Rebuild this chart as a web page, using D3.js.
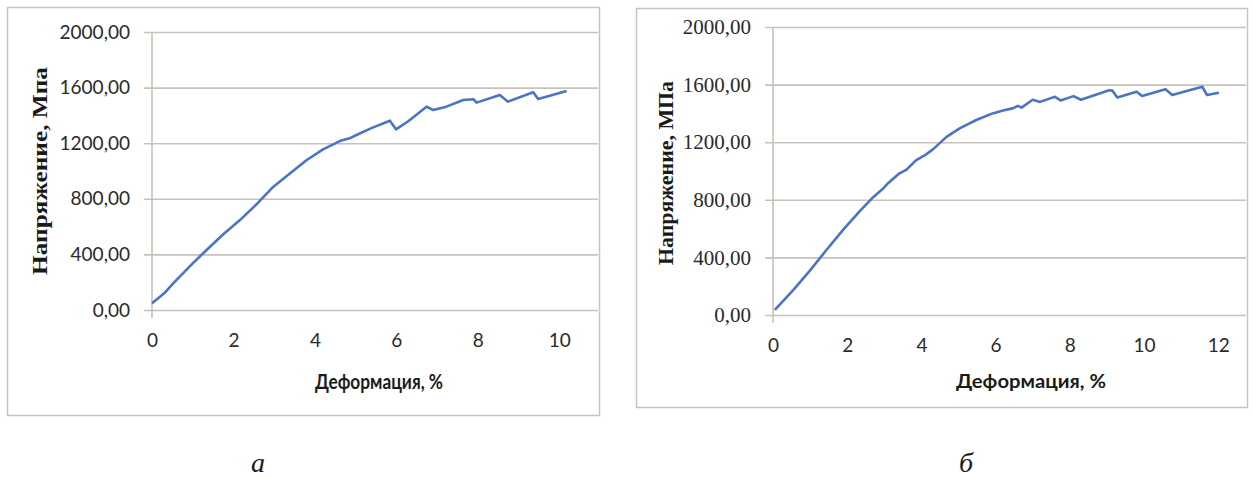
<!DOCTYPE html>
<html>
<head>
<meta charset="utf-8">
<script src="https://cdn.jsdelivr.net/npm/d3@7"></script>
<style>
  html, body { margin: 0; padding: 0; background: #fff; }
  svg { display: block; }
  .tick-sans text { font-family: Lato, "Open Sans", sans-serif; }
  .tick-serif text { font-family: "Liberation Serif", "DejaVu Serif", serif; }
</style>
</head>
<body>
<svg id="fig" width="1253" height="479"></svg>
<script>
// Stress-strain curves, two specimens (а, б).
const STRAIN_A = [0, 0.3, 0.52, 1.0, 1.34, 1.75, 2.16, 2.6, 2.98, 3.4, 3.8, 4.2, 4.61, 4.85, 5.02, 5.4, 5.84, 5.99, 6.3, 6.74, 6.9, 7.23, 7.64, 7.89, 7.97, 8.54, 8.74, 9.36, 9.48, 10.18];
const STRESS_A = [48, 120, 192, 335, 432, 545, 647, 770, 887, 985, 1079, 1155, 1215, 1235, 1259, 1310, 1362, 1300, 1360, 1463, 1439, 1463, 1511, 1516, 1492, 1547, 1499, 1566, 1518, 1576];

const STRAIN_B = [0.05, 0.55, 1.0, 1.44, 1.9, 2.34, 2.7, 2.97, 3.1, 3.41, 3.6, 3.86, 4.1, 4.31, 4.67, 5.03, 5.48, 5.92, 6.2, 6.46, 6.6, 6.7, 7.0, 7.2, 7.6, 7.75, 8.1, 8.3, 8.7, 9.06, 9.15, 9.28, 9.8, 9.95, 10.58, 10.76, 11.57, 11.7, 12.02];
const STRESS_B = [35, 174, 310, 451, 595, 722, 818, 878, 915, 984, 1010, 1076, 1110, 1150, 1235, 1296, 1354, 1400, 1420, 1435, 1452, 1440, 1495, 1480, 1515, 1490, 1520, 1495, 1530, 1560, 1558, 1511, 1551, 1521, 1567, 1528, 1585, 1528, 1544];

const Y_TICKS = [0, 400, 800, 1200, 1600, 2000];
const X_TICKS_A = [0, 2, 4, 6, 8, 10];
const X_TICKS_B = [0, 2, 4, 6, 8, 10, 12];

const Y_TITLE_A = 'Напряжение, Мпа';
const Y_TITLE_B = 'Напряжение, МПа';
const X_TITLE = 'Деформация, %';
const PANEL_LABELS = ['а', 'б'];

const LINE_COLOR = '#4a74c4';
const GRID_COLOR = '#c9c1ba';
const FRAME_COLOR = '#c4c4c4';

const ruLocale = d3.formatLocale({ decimal: ',', thousands: '', grouping: [3], currency: ['', ''] });
const fmtY = ruLocale.format('.2f');

const svg = d3.select('#fig');

// frame: outer chart box; plot: inner plot rect in page coords
const PANELS = [
  {
    frame: { x: 7.5, y: 7.5, w: 592, h: 408 },
    plot: { left: 152, right: 598, top: 32, bottom: 310 },
    xMax: 10.95,
    xTicks: X_TICKS_A,
    strain: STRAIN_A,
    stress: STRESS_A,
    yTickClass: 'tick-sans',
    yTickSize: 19,
    yTitle: Y_TITLE_A,
    yTitlePos: { x: 47, y: 171, len: 208 },
    xTitlePos: { x: 379, y: 389, len: 128, size: 20 },
    label: PANEL_LABELS[0],
    labelPos: { x: 258, y: 472 },
  },
  {
    frame: { x: 636.5, y: 8.5, w: 611, h: 399 },
    plot: { left: 773, right: 1246, top: 27, bottom: 315 },
    xMax: 12.75,
    xTicks: X_TICKS_B,
    strain: STRAIN_B,
    stress: STRESS_B,
    yTickClass: 'tick-serif',
    yTickSize: 21,
    yTitle: Y_TITLE_B,
    yTitlePos: { x: 673, y: 173, len: 184 },
    xTitlePos: { x: 1031, y: 388, len: 150, size: 19 },
    label: PANEL_LABELS[1],
    labelPos: { x: 966, y: 472 },
  },
];

PANELS.forEach(renderPanel);

function renderPanel(p) {
  svg.append('rect')
    .attr('x', p.frame.x).attr('y', p.frame.y)
    .attr('width', p.frame.w).attr('height', p.frame.h)
    .attr('fill', '#fff')
    .attr('stroke', FRAME_COLOR)
    .attr('stroke-width', 1.5);

  const innerW = p.plot.right - p.plot.left;
  const innerH = p.plot.bottom - p.plot.top;
  const g = svg.append('g').attr('transform', `translate(${p.plot.left},${p.plot.top})`);

  const x = d3.scaleLinear().domain([0, p.xMax]).range([0, innerW]);
  const y = d3.scaleLinear().domain([0, 2000]).range([innerH, 0]);

  // horizontal gridlines, with short tick stubs left of the axis
  const grid = g.append('g')
    .call(d3.axisLeft(y).tickValues(Y_TICKS).tickSize(-innerW - 8).tickFormat(''))
    .attr('transform', 'translate(-8,0)');
  grid.select('.domain').remove();
  grid.selectAll('line').attr('stroke', GRID_COLOR).attr('stroke-width', 1.6);

  // y axis line + labels
  const yAxis = g.append('g')
    .attr('class', p.yTickClass)
    .call(d3.axisLeft(y).tickValues(Y_TICKS).tickSize(0).tickPadding(22).tickFormat(fmtY));
  yAxis.select('.domain')
    .attr('stroke', GRID_COLOR).attr('stroke-width', 1.6)
    .attr('d', `M0,0V${innerH + 8}`);
  yAxis.selectAll('text')
    .attr('fill', '#2a2a2a')
    .style('font-size', p.yTickSize + 'px');

  // x axis labels only
  const xAxis = g.append('g')
    .attr('class', 'tick-sans')
    .attr('transform', `translate(0,${innerH})`)
    .call(d3.axisBottom(x).tickValues(p.xTicks).tickSize(0).tickPadding(24).tickFormat(d3.format('d')));
  xAxis.select('.domain').remove();
  xAxis.selectAll('text')
    .attr('fill', '#2a2a2a')
    .style('font-size', '19px');

  const line = d3.line()
    .x((d) => x(d[0]))
    .y((d) => y(d[1]))
    .curve(d3.curveLinear);

  g.append('path')
    .datum(d3.zip(p.strain, p.stress))
    .attr('fill', 'none')
    .attr('stroke', LINE_COLOR)
    .attr('stroke-width', 2.6)
    .attr('stroke-linejoin', 'round')
    .attr('d', line);

  svg.append('text')
    .attr('transform', `translate(${p.yTitlePos.x},${p.yTitlePos.y}) rotate(-90)`)
    .attr('text-anchor', 'middle')
    .attr('textLength', p.yTitlePos.len)
    .attr('lengthAdjust', 'spacingAndGlyphs')
    .style('font-family', '"Liberation Serif", serif')
    .style('font-weight', 'bold')
    .style('font-size', '21px')
    .attr('fill', '#1a1a1a')
    .text(p.yTitle);

  svg.append('text')
    .attr('x', p.xTitlePos.x)
    .attr('y', p.xTitlePos.y)
    .attr('text-anchor', 'middle')
    .attr('textLength', p.xTitlePos.len)
    .attr('lengthAdjust', 'spacingAndGlyphs')
    .style('font-family', 'Lato, sans-serif')
    .style('font-weight', 'bold')
    .style('font-size', p.xTitlePos.size + 'px')
    .attr('fill', '#1a1a1a')
    .text(X_TITLE);

  svg.append('text')
    .attr('x', p.labelPos.x)
    .attr('y', p.labelPos.y)
    .attr('text-anchor', 'middle')
    .style('font-family', '"Liberation Serif", serif')
    .style('font-style', 'italic')
    .style('font-size', '28px')
    .attr('fill', '#1a1a1a')
    .text(p.label);
}
</script>
</body>
</html>
